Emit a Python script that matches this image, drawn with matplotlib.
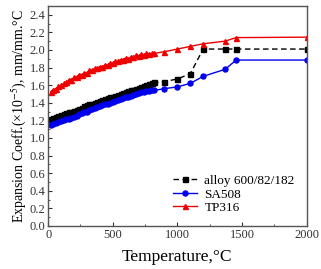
import matplotlib
matplotlib.use("Agg")
import matplotlib.pyplot as plt
from matplotlib.ticker import MultipleLocator

plt.rcParams['font.family'] = ['Liberation Serif', 'DejaVu Serif']
plt.rcParams['mathtext.fontset'] = 'stix'

temp_dense = [20, 40, 60, 80, 100, 120, 140, 160, 180, 200, 220, 240, 260, 280, 300,
              320, 340, 360, 380, 400, 420, 440, 460, 480, 500, 520, 540, 560, 580, 600,
              620, 640, 660, 680, 700, 720, 740, 760, 780, 800, 820]
temp_sparse = [900, 1000, 1100, 1200, 1370, 1455, 2000]

alloy_dense = [1.22, 1.23, 1.24, 1.25, 1.26, 1.27, 1.28, 1.29, 1.30, 1.31, 1.32, 1.33, 1.34, 1.36, 1.37,
               1.38, 1.39, 1.40, 1.41, 1.42, 1.43, 1.44, 1.45, 1.46, 1.47, 1.48, 1.49, 1.50, 1.51, 1.52,
               1.53, 1.54, 1.55, 1.56, 1.57, 1.58, 1.59, 1.60, 1.61, 1.62, 1.63]
alloy_sparse = [1.64, 1.67, 1.73, 2.01, 2.01, 2.01, 2.01]

sa508_dense = [1.15, 1.16, 1.17, 1.18, 1.19, 1.20, 1.21, 1.22, 1.23, 1.24, 1.25, 1.27, 1.28, 1.29, 1.30,
               1.32, 1.33, 1.34, 1.35, 1.36, 1.37, 1.38, 1.39, 1.40, 1.41, 1.42, 1.43, 1.44, 1.45, 1.46,
               1.47, 1.48, 1.49, 1.50, 1.51, 1.52, 1.52, 1.53, 1.53, 1.54, 1.54]
sa508_sparse = [1.56, 1.58, 1.62, 1.70, 1.78, 1.885, 1.885]

tp316_dense = [1.52, 1.55, 1.56, 1.59, 1.60, 1.62, 1.63, 1.66, 1.66, 1.69, 1.69, 1.72, 1.72, 1.74, 1.74,
               1.77, 1.77, 1.79, 1.79, 1.81, 1.81, 1.83, 1.83, 1.85, 1.85, 1.87, 1.87, 1.89, 1.89, 1.91,
               1.90, 1.92, 1.92, 1.94, 1.93, 1.95, 1.94, 1.96, 1.95, 1.96, 1.96]
tp316_sparse = [1.98, 2.01, 2.04, 2.07, 2.10, 2.14, 2.145]

fig = plt.figure(figsize=(3.21, 2.69), dpi=100)
ax = fig.add_axes([0.150, 0.160, 0.805, 0.818])

ms = 3.6
ax.plot(temp_dense + temp_sparse, alloy_dense + alloy_sparse, color='black', ls='--', lw=1.0,
        marker='s', ms=ms, label='alloy 600/82/182', dashes=(4, 2.5))
ax.plot(temp_dense + temp_sparse, sa508_dense + sa508_sparse, color='#0000ee', ls='-', lw=1.0,
        marker='o', ms=ms, label='SA508')
ax.plot(temp_dense + temp_sparse, tp316_dense + tp316_sparse, color='#ee0000', ls='-', lw=1.0,
        marker='^', ms=ms, label='TP316')

ax.set_xlim(0, 2000)
ax.set_ylim(0, 2.5)
ax.xaxis.set_major_locator(MultipleLocator(500))
ax.xaxis.set_minor_locator(MultipleLocator(250))
ax.yaxis.set_minor_locator(MultipleLocator(0.1))
ax.set_yticks([0.0, 0.2, 0.4, 0.6, 0.8, 1.0, 1.2, 1.4, 1.6, 1.8, 2.0, 2.2, 2.4])
ax.set_yticklabels(['0.0', '0.2', '0.4', '0.6', '0.8', '1.0', '1.2', '1.4', '1.6', '1.8', '2.0', '2.2', '2.4'])
ax.tick_params(which='both', direction='in', top=False, right=False, labelsize=9,
               colors='#333333', pad=2)
ax.tick_params(which='major', length=3)
ax.tick_params(which='minor', length=1.5)
for sp in ax.spines.values():
    sp.set_color('#555555')
    sp.set_linewidth(1.0)

ax.set_xlabel('Temperature,°C', fontsize=12.5, labelpad=6)
ax.set_ylabel(r'Expansion Coeff.(×10$^{-5}$), mm/mm.°C', fontsize=10, labelpad=1)

leg = ax.legend(loc='lower right', frameon=False, fontsize=9.5, handlelength=1.8,
                handletextpad=0.6, labelspacing=0.1, bbox_to_anchor=(1.0, 0.0))

fig.savefig('out.png', dpi=100)
